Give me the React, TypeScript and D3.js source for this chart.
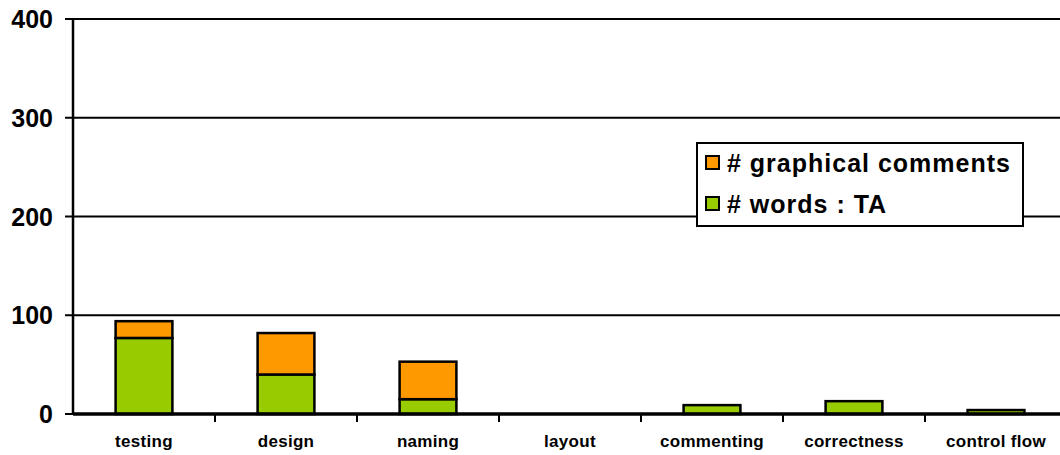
import React from "react";
import * as d3 from "d3";

const categories = ["testing", "design", "naming", "layout", "commenting", "correctness", "control flow"];
const wordsTA = [77, 40, 15, 0, 9, 13, 4];
const graphical = [17, 42, 38, 0, 0, 0, 0];
const yTicks = [0, 100, 200, 300, 400];
const seriesNames = ["# graphical comments", "# words : TA"];
const colors = { words: "#99CC00", graphical: "#FF9900" };

export default function App() {
  const W = 1060, H = 455;
  const left = 73, right = 1067, top = 19, bottom = 414;
  const x = d3.scaleBand<string>().domain(categories).range([left, right]).paddingInner(0.6).paddingOuter(0.3);
  const xb = d3.scaleBand<string>().domain(categories).range([left, right]);
  const y = d3.scaleLinear().domain([0, 400]).range([bottom, top]);
  const font = "Arial, 'Liberation Sans', sans-serif";
  return (
    <svg width={W} height={H} style={{ position: "absolute", left: 0, top: 0 }}>
      <rect width={W} height={H} fill="white" />
      {yTicks.filter(t => t > 0).map(t => (
        <line key={t} x1={left} x2={W} y1={y(t)} y2={y(t)} stroke="black" strokeWidth={2} />
      ))}
      {yTicks.map(t => (
        <g key={"yt" + t}>
          <line x1={65} x2={left} y1={y(t)} y2={y(t)} stroke="black" strokeWidth={2} />
          <text x={53} y={y(t)} dy="0.36em" textAnchor="end" fontFamily={font} fontWeight="bold" fontSize={25}>{t}</text>
        </g>
      ))}
      {categories.map((c, i) => {
        const bx = x(c)!;
        const bw = x.bandwidth();
        const g = wordsTA[i];
        const o = graphical[i];
        return (
          <g key={c}>
            {g + o > 0 && (
              <rect x={bx} y={y(g)} width={bw} height={y(0) - y(g)} fill={colors.words} stroke="black" strokeWidth={2.5} />
            )}
            {o > 0 && (
              <rect x={bx} y={y(g + o)} width={bw} height={y(g) - y(g + o)} fill={colors.graphical} stroke="black" strokeWidth={2.5} />
            )}
          </g>
        );
      })}
      <line x1={left} x2={left} y1={top} y2={bottom} stroke="black" strokeWidth={2.5} />
      <line x1={left} x2={W} y1={bottom} y2={bottom} stroke="black" strokeWidth={3.5} />
      {categories.map((c, i) => (
        <g key={"xt" + c}>
          {i > 0 && <line x1={xb(c)!} x2={xb(c)!} y1={bottom} y2={bottom + 8} stroke="black" strokeWidth={2} />}
          <text x={xb(c)! + xb.bandwidth() / 2} y={447} textAnchor="middle" fontFamily={font} fontWeight="bold" fontSize={17} letterSpacing={0.3}>{c}</text>
        </g>
      ))}
      <g>
        <rect x={697} y={143} width={326} height={83} fill="white" stroke="black" strokeWidth={2} />
        {[colors.graphical, colors.words].map((col, i) => (
          <g key={i}>
            <rect x={706} y={156 + i * 41} width={13} height={13} fill={col} stroke="black" strokeWidth={2} />
            <text x={727} y={163 + i * 41} dy="0.36em" fontFamily={font} fontWeight="bold" fontSize={25} letterSpacing={1}>{seriesNames[i]}</text>
          </g>
        ))}
      </g>
    </svg>
  );
}
